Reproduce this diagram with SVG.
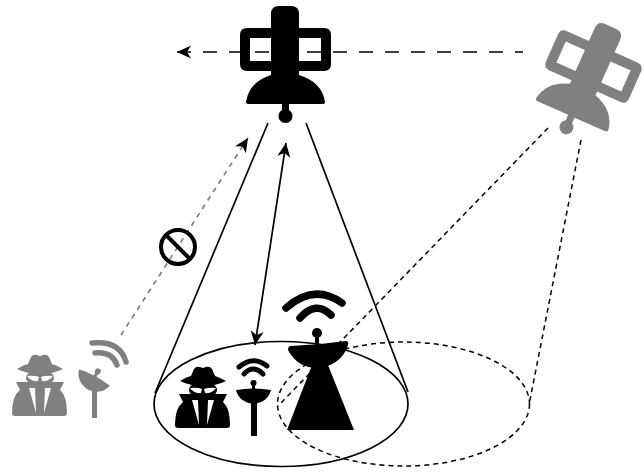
<svg xmlns="http://www.w3.org/2000/svg" width="644" height="474" viewBox="0 0 644 474">
<style>
.ln{fill:none;stroke:#000;stroke-width:1.7}
.ds{fill:none;stroke:#000;stroke-width:1.5;stroke-dasharray:5 4}
.wf{fill:none;stroke-linecap:round}
</style>
<defs>
<marker id="ah" markerUnits="userSpaceOnUse" markerWidth="16" markerHeight="14" refX="14" refY="7" orient="auto-start-reverse"><path d="M0 0.500L14 7L0 13.500L4 7Z" fill="#000"/></marker>
<g id="sat"><path fill-rule="evenodd" d="M271 14Q271 6 279 6H291Q299 6 299 14V28H324Q331 28 331 35V64Q331 71 324 71H299V75Q322 82 325 102Q325 104 322 104H289V110A7 7 0 1 1 282 110V104H249Q246 104 246 102Q249 82 271 75V71H247Q240 71 240 64V35Q240 28 247 28H271ZM250 38V61H271V38ZM299 38V61H321V38Z"/></g>
<g id="spy"><path d="M180 381Q186 377 191 376L194 369Q196 366 200 367L203 368L206 367Q210 366 212 369L215 376Q221 378 226 381Q216 386 203 386Q190 386 180 381Z"/><ellipse cx="203" cy="390" rx="14" ry="8"/><path d="M179 394H227L223 402Q230 408 230 425Q230 428 227 428H178Q175 428 175 425Q175 408 183 402Z"/><path fill="#fff" d="M190 388Q197 387 202 389L201 393Q194 394 190 388ZM216 388Q209 387 204 389L205 393Q212 394 216 388ZM192 400H198L199 425ZM208 400H214L207 425Z"/></g>
<g id="smalldish"><circle cx="253.500" cy="383" r="3"/><path d="M252 383H255V391H252Z"/><path d="M236 390Q253 387 271 390Q268 402 253.500 404Q239 402 236 390Z"/></g>
</defs>
<g id="connectors">
<path d="M523 52H177" fill="none" stroke="#000" stroke-width="1.500" stroke-dasharray="14 12" stroke-dashoffset="6" marker-end="url(#ah)"/>
<path class="ln" d="M268 123L155 393"/>
<path class="ln" d="M306 123L408 392"/>
<path class="ln" d="M286 143L255 345" marker-start="url(#ah)" marker-end="url(#ah)"/>
<path d="M121 335L248 138" fill="none" stroke="#808080" stroke-width="1.700" stroke-dasharray="5 5" marker-end="url(#ah)"/>
<path class="ds" d="M548 128L278 406"/>
<path class="ds" d="M581 140L529 405"/>
</g>
<g id="beam-a"><ellipse cx="281" cy="404" rx="127" ry="62.500" fill="none" stroke="#000" stroke-width="1.700"/></g>
<g id="beam-b"><ellipse cx="403.500" cy="404" rx="126" ry="62" class="ds"/></g>
<g id="satellite-black"><use href="#sat"/></g>
<g id="satellite-gray" fill="#808080"><use href="#sat" transform="translate(281 11) rotate(24 285 116)"/></g>
<g id="no-symbol"><circle cx="178" cy="247" r="17" fill="none" stroke="#000" stroke-width="4"/><path d="M166 235L190 259" stroke="#000" stroke-width="4"/></g>
<g id="spy-black"><use href="#spy"/></g>
<g id="dish-small"><use href="#smalldish"/><path d="M251 403H257V436H251Z"/><path class="wf" stroke="#000" stroke-width="5" d="M239 367Q253 355 267 366M244 374Q253 364 263 374"/></g>
<g id="dish-big"><circle cx="317" cy="333" r="5"/><path d="M315 333H319V345H315Z"/><path d="M291 346Q318 345 346 341Q349 341 348 345Q342 364 320 368Q298 369 288 350Q288 346 291 346Z"/><path d="M312 365H328L354 430H287Z"/><path class="wf" stroke="#000" stroke-width="7.500" d="M286 308Q314 283 342 303M300 318Q316 300 331 315"/></g>
<g id="spy-gray" fill="#808080"><use href="#spy" transform="translate(-163 -12)"/></g>
<g id="dish-gray" fill="#808080"><use href="#smalldish" transform="translate(-159 -12.500) rotate(28 253.500 390)"/><path d="M92 388H97V418H92Z"/><path class="wf" stroke="#808080" stroke-width="5.500" d="M92 343Q120 340 126 362M95 353Q112 351 117 365"/></g>
</svg>
